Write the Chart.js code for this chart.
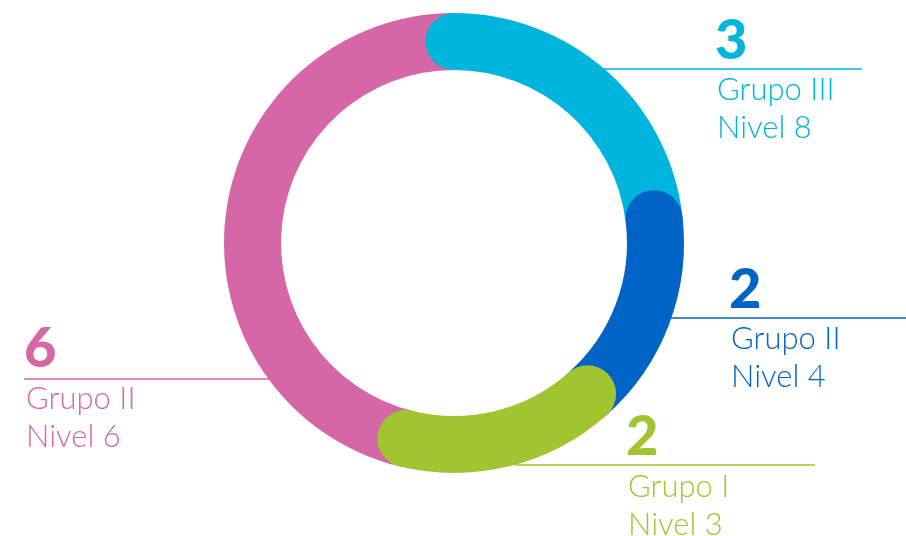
<!DOCTYPE html>
<html>
<head>
<meta charset="utf-8">
<script src="https://cdn.jsdelivr.net/npm/chart.js@4"></script>
<style>
  html, body { margin: 0; padding: 0; background: #fff; }
  #wrap { width: 906px; height: 536px; }
</style>
</head>
<body>
<div id="wrap"><canvas id="ringChart" width="906" height="536"></canvas></div>
<script>
// data, in drawing order (pink first so the rounded caps overlap the right way)
const values = [6, 3, 2, 2];
const groups = ["Grupo II", "Grupo III", "Grupo II", "Grupo I"];
const levels = ["Nivel 6", "Nivel 8", "Nivel 4", "Nivel 3"];
const colors = ["#D567A8", "#00B5DD", "#0063C6", "#A1C531"];

// label layout: number baseline, leader line, text start
const labelLayout = [
  { x: 26,  numY: 367, lineY: 379, lineFrom: 24,  lineTo: 270, textY: 409 },
  { x: 717, numY: 59,  lineY: 69,  lineFrom: 600, lineTo: 862, textY: 100 },
  { x: 731, numY: 308, lineY: 318, lineFrom: 665, lineTo: 906, textY: 349 },
  { x: 628, numY: 455, lineY: 465, lineFrom: 515, lineTo: 815, textY: 497 }
];

const total = values.reduce((a, b) => a + b, 0);

// leader lines go under the ring, numbers + text on top
const labelPlugin = {
  id: 'labels',
  beforeDatasetsDraw(chart) {
    const ctx = chart.ctx;
    ctx.save();
    ctx.lineWidth = 1.5;
    labelLayout.forEach((l, i) => {
      ctx.strokeStyle = colors[i];
      ctx.beginPath();
      ctx.moveTo(l.lineFrom, l.lineY);
      ctx.lineTo(l.lineTo, l.lineY);
      ctx.stroke();
    });
    ctx.restore();
  },
  afterDraw(chart) {
    const ctx = chart.ctx;
    ctx.save();
    ctx.textAlign = 'left';
    ctx.textBaseline = 'alphabetic';
    labelLayout.forEach((l, i) => {
      ctx.fillStyle = colors[i];
      ctx.font = '900 56px Lato, "DejaVu Sans", sans-serif';
      ctx.fillText(String(values[i]), l.x - 2, l.numY);
      ctx.font = '300 31px Lato, "Open Sans", sans-serif';
      ctx.fillText(groups[i], l.x, l.textY);
      ctx.fillText(levels[i], l.x, l.textY + 38);
    });
    ctx.restore();
  }
};

// rounded caps: start cap of every segment after the first, end cap of the last
const capsPlugin = {
  id: 'caps',
  afterDatasetsDraw(chart) {
    const ctx = chart.ctx;
    const arcs = chart.getDatasetMeta(0).data;
    ctx.save();
    arcs.forEach((arc, i) => {
      const p = arc.getProps(['x', 'y', 'startAngle', 'endAngle', 'innerRadius', 'outerRadius'], true);
      const mid = (p.innerRadius + p.outerRadius) / 2;
      const r = (p.outerRadius - p.innerRadius) / 2;
      ctx.fillStyle = colors[i];
      const angles = [];
      if (i > 0) angles.push(p.startAngle);
      if (i === arcs.length - 1) angles.push(p.endAngle);
      angles.forEach(a => {
        ctx.beginPath();
        ctx.arc(p.x + mid * Math.cos(a), p.y + mid * Math.sin(a), r, 0, Math.PI * 2);
        ctx.fill();
      });
    });
    ctx.restore();
  }
};

new Chart(document.getElementById('ringChart'), {
  type: 'doughnut',
  data: {
    labels: groups.map((g, i) => g + ' ' + levels[i]),
    datasets: [{
      data: values,
      backgroundColor: colors,
      borderWidth: 0,
      hoverBorderWidth: 0,
      offset: 0,
      hoverOffset: 0
    }]
  },
  options: {
    responsive: false,
    devicePixelRatio: 1,
    animation: false,
    cutout: '75.2%',
    rotation: -360 * values[0] / total,
    layout: { padding: { top: 13, bottom: 63, left: 2 } },
    plugins: {
      legend: { display: false },
      tooltip: { enabled: false }
    },
    events: []
  },
  plugins: [labelPlugin, capsPlugin]
});
</script>
</body>
</html>
